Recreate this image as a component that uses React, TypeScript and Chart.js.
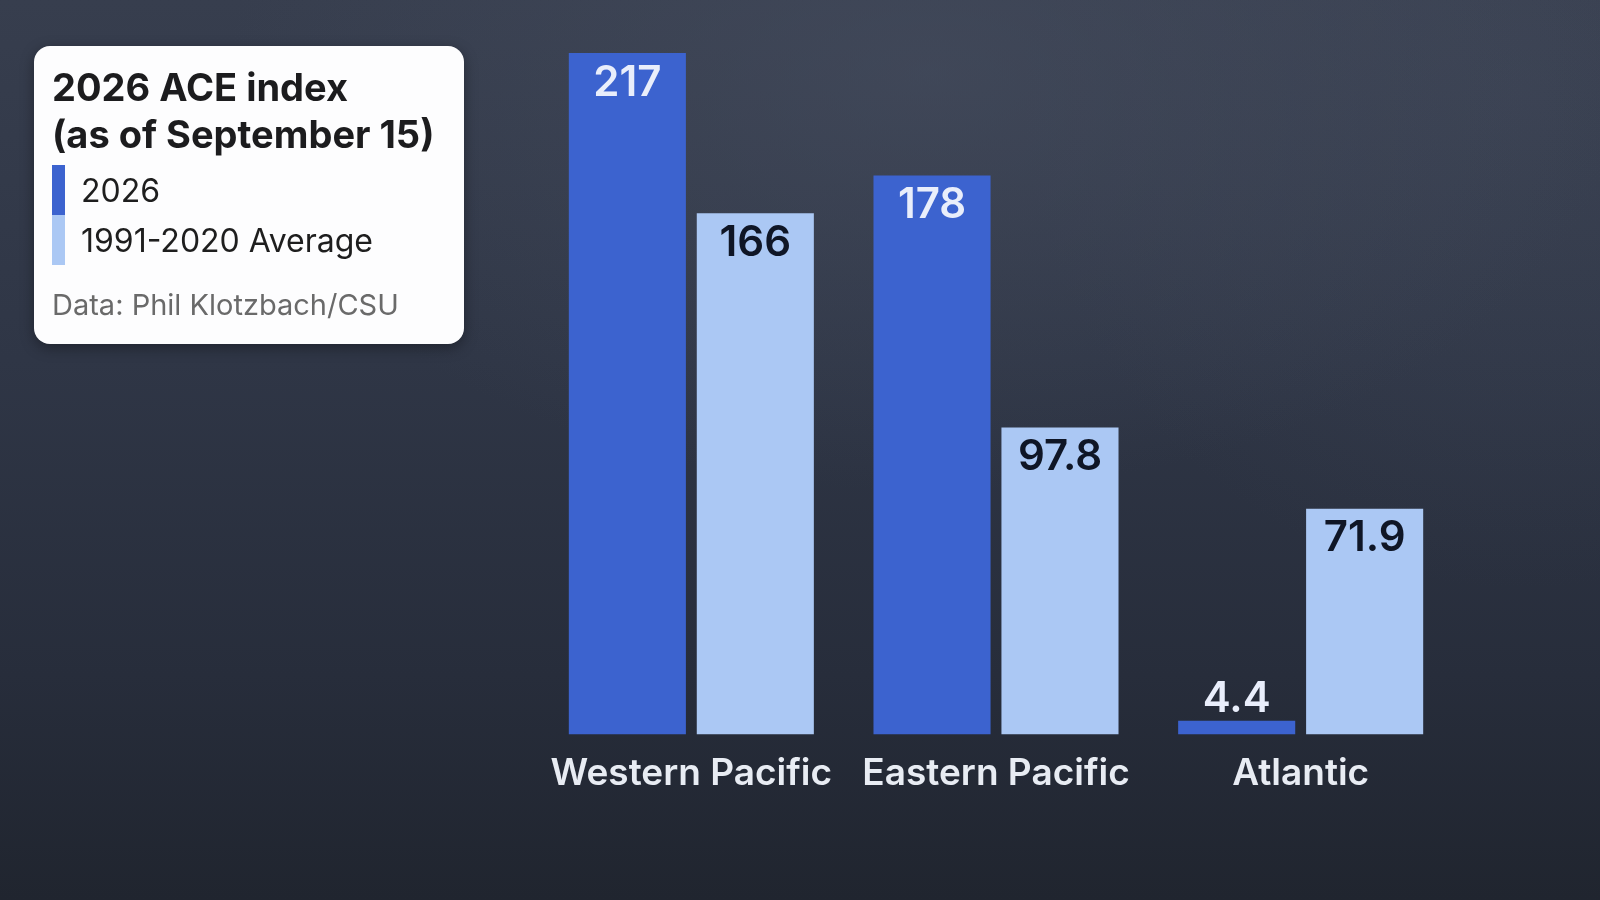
import React, { useEffect, useRef } from "react";
import { Chart, registerables } from "chart.js";

Chart.register(...registerables);

const categories = ["Western Pacific", "Eastern Pacific", "Atlantic"];
const values2026 = [217, 178, 4.4];
const valuesAverage = [166, 97.8, 71.9];
const seriesNames = ["2026", "1991-2020 Average"];
const seriesColors = ["#3c63cf", "#abc8f4"];
const labelColors = ["#e9eefb", "#0f1626"];

const titleLines = ["2026 ACE index", "(as of September 15)"];
const sourceText = "Data: Phil Klotzbach/CSU";

const valueLabelPlugin = {
  id: "valueLabels",
  afterDatasetsDraw(chart: any) {
    const ctx = chart.ctx;
    ctx.save();
    ctx.font = "600 42px Inter, 'Noto Sans', sans-serif";
    ctx.textAlign = "center";
    ctx.textBaseline = "middle";
    chart.data.datasets.forEach((ds: any, di: number) => {
      const meta = chart.getDatasetMeta(di);
      meta.data.forEach((bar: any, i: number) => {
        const v = ds.data[i];
        const h = bar.base - bar.y;
        if (h > 70) {
          ctx.fillStyle = labelColors[di];
          ctx.fillText(String(v), bar.x, bar.y + 30);
        } else {
          ctx.fillStyle = "#e9eefb";
          ctx.fillText(String(v), bar.x, bar.y - 21);
        }
      });
    });
    ctx.restore();
  },
};

function App() {
  const canvasRef = useRef<HTMLCanvasElement | null>(null);

  useEffect(() => {
    document.body.style.margin = "0";
    const canvas = canvasRef.current;
    if (!canvas) return;
    const chart = new Chart(canvas, {
      type: "bar",
      data: {
        labels: categories,
        datasets: [
          {
            label: seriesNames[0],
            data: values2026,
            backgroundColor: seriesColors[0],
            categoryPercentage: 0.84,
            barPercentage: 0.915,
          },
          {
            label: seriesNames[1],
            data: valuesAverage,
            backgroundColor: seriesColors[1],
            categoryPercentage: 0.84,
            barPercentage: 0.915,
          },
        ],
      },
      options: {
        responsive: false,
        animation: false,
        layout: { padding: { left: 539, right: 147, top: 53, bottom: 87 } },
        plugins: {
          legend: { display: false },
          tooltip: { enabled: false },
          title: { display: false },
        },
        scales: {
          x: {
            grid: { display: false, drawTicks: false },
            border: { display: false },
            ticks: {
              color: "#e8ecf3",
              padding: 17,
              font: { family: "Inter, 'Noto Sans', sans-serif", size: 37, weight: "600" },
            },
          },
          y: {
            display: false,
            min: 0,
            max: Math.max(...values2026, ...valuesAverage),
          },
        },
      },
      plugins: [valueLabelPlugin],
    });
    return () => chart.destroy();
  }, []);

  return (
    <div
      style={{
        position: "fixed",
        left: 0,
        top: 0,
        width: 1600,
        height: 900,
        overflow: "hidden",
        background:
          "radial-gradient(ellipse 700px 420px at 58% 8%, rgba(72,80,98,0.55), rgba(72,80,98,0) 100%), radial-gradient(ellipse 500px 500px at 95% 10%, rgba(70,78,96,0.35), rgba(70,78,96,0) 100%), linear-gradient(180deg, #373e4e 0%, #2f3646 40%, #272d3b 75%, #20252f 100%)",
        fontFamily: "Inter, 'Noto Sans', sans-serif",
      }}
    >
      <canvas ref={canvasRef} width={1600} height={900} style={{ position: "absolute", left: 0, top: 0 }} />
      <div
        style={{
          position: "absolute",
          left: 34,
          top: 46,
          width: 430,
          height: 298,
          boxSizing: "border-box",
          background: "#fdfdfe",
          borderRadius: 16,
          boxShadow: "0 4px 14px rgba(0,0,0,0.35)",
          padding: "18px 18px 0 18px",
          color: "#1c1c1e",
        }}
      >
        <div style={{ fontSize: 38, fontWeight: 700, lineHeight: "47px", letterSpacing: 0 }}>
          {titleLines.map((t) => (
            <div key={t}>{t}</div>
          ))}
        </div>
        <div style={{ marginTop: 7 }}>
          {seriesNames.map((name, i) => (
            <div key={name} style={{ display: "flex", alignItems: "center", height: 50 }}>
              <div style={{ width: 13, height: 50, background: seriesColors[i] }} />
              <div style={{ marginLeft: 16, fontSize: 32, fontWeight: 400, color: "#1e1e1e" }}>{name}</div>
            </div>
          ))}
        </div>
        <div style={{ marginTop: 22, fontSize: 29, color: "#6a6a6a" }}>{sourceText}</div>
      </div>
    </div>
  );
}

export default App;
